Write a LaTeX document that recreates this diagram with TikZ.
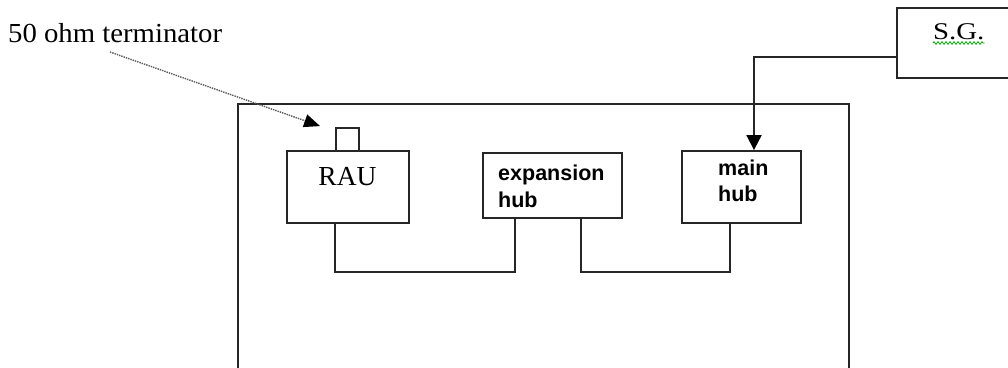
\documentclass[tikz,border=0pt]{standalone}
\usepackage{fontspec}
\setmainfont{Liberation Serif}
\newfontfamily\hubfont{Liberation Sans}
\usetikzlibrary{arrows.meta,decorations.pathmorphing}
\tikzset{
  boxnode/.style={draw=black!85, line width=1.8pt, inner sep=0pt, rectangle},
  wire/.style={draw=black!85, line width=1.8pt},
  serlabel/.style={inner sep=0pt, anchor=base west, font=\fontsize{27.5}{30}\selectfont},
  hublabel/.style={inner sep=0pt, anchor=base west, font=\hubfont\bfseries\fontsize{21.5}{25}\selectfont},
  termarrow/.style={draw=black!65, line width=1.4pt, densely dotted,
    -{Triangle[length=16pt,width=13pt,color=black]}},
  sgarrow/.style={wire, -{Triangle[length=15pt,width=15pt,color=black]}}
}
\begin{document}
\begin{tikzpicture}[x=1pt,y=-1pt]
\useasboundingbox (0,0) rectangle (1008,367);
% outer frame
\draw[wire] (238,104) rectangle (849,390);
% boxes
\node[boxnode, minimum width=23pt, minimum height=23pt] (term) at (347.5,139.5) {};
\node[boxnode, minimum width=122pt, minimum height=72pt] (rau) at (348,187) {};
\node[boxnode, minimum width=139pt, minimum height=65pt] (exp) at (552.5,185.5) {};
\node[boxnode, minimum width=119pt, minimum height=72pt] (main) at (741.5,187) {};
\node[boxnode, minimum width=117pt, minimum height=70pt] (sg) at (955.5,43) {};
% texts
\node[serlabel] (lbl) at (8,42) {\scalebox{1.045}[1]{50 ohm terminator}};
\node[inner sep=0pt, anchor=base, font=\fontsize{27.5}{30}\selectfont] (raut) at (347.5,185) {RAU};
\node[hublabel] (expt1) at (498,180) {expansion};
\node[hublabel] (expt2) at (498,207) {hub};
\node[hublabel] (maint1) at (718,175) {main};
\node[hublabel] (maint2) at (718,201) {hub};
\node[inner sep=0pt, anchor=base west, font=\fontsize{24}{28}\selectfont] (sgt) at (933,39) {\scalebox{1.2}[1]{S.G.}};
\draw[green!65!black, line width=0.8pt, decorate, decoration={zigzag, amplitude=1.3pt, segment length=4pt}]
  ([yshift=-4pt]sgt.base west) -- ([yshift=-4pt]sgt.base east);
% connectors
\coordinate (bus1) at (420,272);
\coordinate (bus2) at (650,272);
\draw[wire] ([xshift=49pt]rau.south west) |- (bus1) -| ([xshift=33pt]exp.south west);
\draw[wire] ([xshift=99pt]exp.south west) |- (bus2) -| ([xshift=49pt]main.south west);
\draw[sgarrow] ([yshift=-14pt]sg.west) -| ([xshift=12.5pt]main.north);
\coordinate (tstart) at (110,52);
\draw[termarrow] (tstart) -- ([xshift=-15pt,yshift=1pt]term.north west);
\end{tikzpicture}
\end{document}
